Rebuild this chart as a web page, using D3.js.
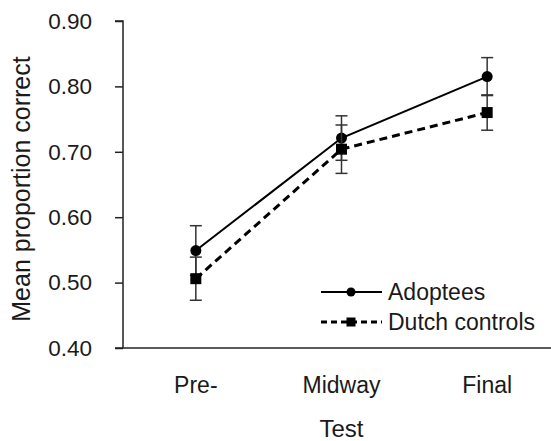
<!DOCTYPE html>
<html>
<head>
<meta charset="utf-8">
<script src="https://cdn.jsdelivr.net/npm/d3@7"></script>
<style>
  body { margin: 0; background: #fff; }
  text { font-family: "Liberation Sans", Arial, sans-serif; fill: #1a1a1a; }
</style>
</head>
<body>
<div id="chart"></div>
<script>
// Data
const tests = ["Pre-", "Midway", "Final"];
const adoptees = [0.549, 0.721, 0.815];
const adopteesErr = [0.038, 0.034, 0.029];
const dutch = [0.506, 0.704, 0.760];
const dutchErr = [0.033, 0.037, 0.027];
const yTicks = [0.40, 0.50, 0.60, 0.70, 0.80, 0.90];

const W = 551, H = 441;
const svg = d3.select("#chart").append("svg")
  .attr("width", W).attr("height", H);

const x = d3.scaleBand().domain(tests).range([123, 560]);
const y = d3.scaleLinear().domain([0.4, 0.9]).range([348, 21]);
const cx = d => x(d) + x.bandwidth() / 2;

// y axis
const yAxis = svg.append("g")
  .attr("transform", "translate(123,0)")
  .call(d3.axisLeft(y).tickValues(yTicks).tickFormat(d3.format(".2f")).tickSize(8).tickPadding(23));
yAxis.select(".domain").attr("stroke", "#222").attr("stroke-width", 1.5).attr("d", "M-8,21H0V348");
yAxis.selectAll(".tick line").attr("stroke", "#222").attr("stroke-width", 1.5);
yAxis.selectAll(".tick text").style("font-size", "22.5px").attr("fill", "#1a1a1a");

// x axis line, no ticks
svg.append("line")
  .attr("x1", 115).attr("x2", 560)
  .attr("y1", y(0.4)).attr("y2", y(0.4))
  .attr("stroke", "#222").attr("stroke-width", 1.5);

svg.selectAll(".xlab").data(tests).join("text")
  .attr("class", "xlab")
  .attr("x", d => cx(d)).attr("y", 393)
  .attr("text-anchor", "middle")
  .style("font-size", "23px")
  .text(d => d);

svg.append("text")
  .attr("x", cx("Midway")).attr("y", 437)
  .attr("text-anchor", "middle")
  .style("font-size", "24px")
  .text("Test");

svg.append("text")
  .attr("transform", "translate(30,189) rotate(-90)")
  .attr("text-anchor", "middle")
  .style("font-size", "25px")
  .text("Mean proportion correct");

// series
const series = [
  { name: "Adoptees", vals: adoptees, err: adopteesErr, dash: null, width: 2, shape: "circle" },
  { name: "Dutch controls", vals: dutch, err: dutchErr, dash: "8,5", width: 3, shape: "square" }
];

const line = d3.line().x(d => cx(d.t)).y(d => y(d.v));

series.forEach(s => {
  const pts = tests.map((t, i) => ({ t, v: s.vals[i], e: s.err[i] }));

  // error bars
  const eb = svg.append("g").attr("stroke", "#333").attr("stroke-width", 1.5);
  pts.forEach(p => {
    const xx = cx(p.t);
    eb.append("line").attr("x1", xx).attr("x2", xx)
      .attr("y1", y(p.v + p.e)).attr("y2", y(p.v - p.e));
    [p.v + p.e, p.v - p.e].forEach(v => {
      eb.append("line").attr("x1", xx - 6).attr("x2", xx + 6)
        .attr("y1", y(v)).attr("y2", y(v));
    });
  });

  svg.append("path").datum(pts)
    .attr("fill", "none").attr("stroke", "#000")
    .attr("stroke-width", s.width)
    .attr("stroke-dasharray", s.dash)
    .attr("d", line);

  pts.forEach(p => {
    if (s.shape === "circle") {
      svg.append("circle").attr("cx", cx(p.t)).attr("cy", y(p.v)).attr("r", 5.5).attr("fill", "#000");
    } else {
      svg.append("rect").attr("x", cx(p.t) - 5.5).attr("y", y(p.v) - 5.5)
        .attr("width", 11).attr("height", 11).attr("fill", "#000");
    }
  });
});

// legend
const legend = svg.append("g");
series.forEach((s, i) => {
  const ly = 292 + i * 30;
  legend.append("line").attr("x1", 321).attr("x2", 382).attr("y1", ly).attr("y2", ly)
    .attr("stroke", "#000").attr("stroke-width", s.width).attr("stroke-dasharray", s.dash ? "6,4" : null);
  if (s.shape === "circle") {
    legend.append("circle").attr("cx", 351).attr("cy", ly).attr("r", 4.5).attr("fill", "#000");
  } else {
    legend.append("rect").attr("x", 346.5).attr("y", ly - 4.5).attr("width", 9).attr("height", 9).attr("fill", "#000");
  }
  legend.append("text").attr("x", 388).attr("y", ly)
    .attr("dominant-baseline", "central")
    .style("font-size", "23px")
    .text(s.name);
});
</script>
</body>
</html>
